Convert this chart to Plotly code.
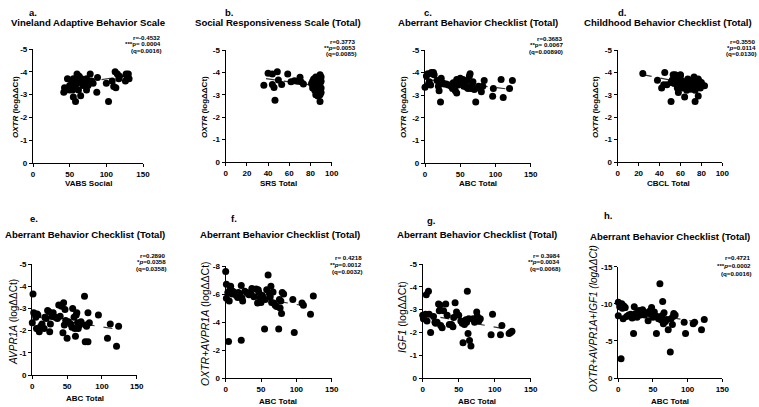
import plotly.graph_objects as go

# ---------- data ----------

vabs_social = [42, 43, 45, 47, 48, 50, 50, 52, 53, 54, 55, 55, 57, 58, 58, 60, 60, 62, 62, 63,
               65, 65, 66, 68, 70, 72, 73, 73, 75, 75, 77, 78, 80, 82, 87, 88, 100, 103, 108, 110,
               112, 113, 115, 117, 118, 126, 127, 128, 130, 131]
oxtr_vabs = [-3.1, -3.3, -3.2, -3.7, -3.3, -3.4, -3.2, -3.3, -3.5, -3.2, -2.9, -3.7, -3.4, -2.7, -3.3,
             -3.9, -3.5, -3.2, -3.7, -3.8, -2.95, -3.6, -3.7, -3.4, -3.6, -3.5, -3.7, -3.2, -3.4, -3.6,
             -3.5, -3.9, -3.6, -3.5, -3.1, -3.75, -3.5, -2.7, -3.6, -3.35, -4.0, -3.3, -3.9, -3.7, -3.8,
             -3.6, -3.9, -3.8, -3.9, -3.7]
fit_vabs_x = [45, 131]
fit_vabs_y = [-3.4, -3.85]

srs_total = [36, 40, 44, 44, 46.5, 45.6, 48.7, 49.7, 52.8, 58.5, 61.6, 64.8, 67.6, 70.1, 71, 73.3,
             82, 82, 83, 83, 84, 84, 85, 85, 85, 86, 86, 87, 87, 87, 88, 88, 88, 89, 89, 89, 89,
             90, 90, 90, 90, 86, 84, 83, 88, 81]
oxtr_srs = [-3.43, -3.96, -3.93, -3.46, -2.76, -3.33, -4.03, -3.66, -3.46, -3.93, -3.58, -3.63, -3.61,
            -3.78, -3.58, -3.48, -3.6, -3.3, -3.5, -3.7, -3.4, -3.2, -3.6, -3.0, -3.8, -3.5, -3.3,
            -3.1, -3.7, -2.95, -3.4, -3.6, -3.2, -3.5, -3.9, -3.0, -2.7, -3.3, -3.6, -3.1, -3.8,
            -3.75, -3.55, -3.35, -3.45, -3.5]
fit_srs_x = [38, 90]
fit_srs_y = [-3.72, -3.38]

abc_c = [0, 2, 4, 5, 6, 8, 9, 10, 12, 13, 17, 19, 20, 22, 23, 25, 27, 30, 33, 37, 39, 40, 43, 45,
         45, 47, 50, 52, 54, 55, 57, 59, 60, 61, 63, 64, 65, 67, 68, 70, 72, 76, 78, 80, 82, 84,
         96, 97, 108, 111, 120, 124]
oxtr_abc = [-3.35, -3.85, -3.95, -3.5, -3.6, -3.45, -4.0, -3.95, -4.0, -3.9, -3.65, -3.4, -3.2, -2.7,
            -3.75, -3.55, -3.5, -3.5, -3.45, -3.4, -3.3, -3.55, -3.2, -3.1, -3.7, -3.45, -3.75, -3.6,
            -3.7, -3.4, -3.5, -3.35, -3.65, -3.3, -3.85, -3.95, -3.3, -3.45, -3.6, -3.25, -2.7, -3.4,
            -3.3, -3.15, -3.4, -3.65, -2.95, -3.3, -3.7, -2.9, -3.3, -3.65]
fit_abc_c_x = [0, 124]
fit_abc_c_y = [-3.7, -3.25]

cbcl_total = [24, 38, 42, 44, 45, 47, 51, 51, 52, 53, 54, 55, 56, 57, 57, 58, 59, 60, 61, 62, 62, 63,
              64, 65, 66, 67, 68, 69, 70, 70, 71, 72, 73, 74, 74, 75, 76, 77, 77, 78, 79, 80, 83,
              60, 66]
oxtr_cbcl = [-3.95, -3.65, -3.3, -3.45, -4.0, -3.45, -2.7, -3.55, -3.65, -3.9, -3.5, -3.9, -3.6, -3.75,
             -3.3, -3.1, -3.55, -3.9, -3.45, -3.6, -3.3, -3.4, -2.9, -3.55, -3.2, -3.7, -3.35, -3.5,
             -3.25, -3.65, -3.4, -3.55, -3.8, -3.2, -2.7, -3.6, -3.45, -2.95, -3.7, -3.6, -3.3, -3.55,
             -3.4, -3.85, -3.45]
fit_cbcl_x = [24, 83]
fit_cbcl_y = [-3.9, -3.35]

abc_e = [0, 1, 2, 4, 5, 6, 7, 8, 9, 10, 12, 14, 17, 18, 20, 22, 24, 25, 26, 28, 30, 33, 36, 38, 40,
         42, 44, 45, 46, 47, 48, 50, 52, 55, 57, 58, 60, 61, 62, 63, 64, 65, 66, 68, 70, 75, 76, 77,
         78, 80, 80, 82, 95, 108, 112, 121, 124]
avpr1a = [-2.35, -3.65, -2.8, -2.75, -2.6, -2.1, -2.75, -2.7, -2.05, -1.95, -2.2, -2.3, -2.1, -2.6,
          -2.55, -2.9, -2.85, -1.95, -2.3, -2.65, -2.8, -2.6, -2.55, -3.15, -2.65, -3.1, -1.9, -3.25,
          -2.25, -2.95, -2.45, -1.65, -2.4, -2.3, -2.15, -3.0, -2.6, -2.1, -1.75, -2.7, -2.8, -2.35,
          -2.1, -2.25, -2.4, -3.55, -1.5, -2.25, -2.2, -1.5, -2.8, -2.35, -2.7, -1.65, -2.3, -1.3, -2.2]
fit_abc_e_x = [0, 124]
fit_abc_e_y = [-2.65, -2.05]

abc_f = [0, 1, 1, 3, 4, 5, 6, 7, 9, 10, 12, 15, 17, 18, 20, 22, 22, 23, 24, 27, 30, 33, 36, 37, 40,
         43, 45, 46, 47, 48, 50, 52, 55, 56, 58, 60, 62, 63, 64, 65, 67, 68, 70, 72, 75, 76, 77, 78,
         79, 80, 82, 95, 97, 108, 110, 120, 124]
oxtr_avpr1a = [-7.6, -6.7, -5.7, -6.1, -2.6, -5.5, -6.3, -6.55, -6.0, -6.2, -6.1, -5.9, -5.75, -6.1,
               -6.0, -2.7, -6.6, -5.7, -5.5, -6.2, -6.1, -5.95, -6.0, -6.4, -5.8, -6.35, -5.35, -6.3,
               -6.1, -5.7, -5.4, -5.9, -3.5, -5.6, -6.3, -7.35, -6.0, -5.8, -6.55, -5.4, -6.15, -5.35,
               -5.2, -5.1, -3.5, -5.6, -5.0, -5.5, -4.6, -6.1, -6.0, -5.6, -3.25, -5.35, -5.2, -4.55,
               -5.85]
fit_abc_f_x = [0, 124]
fit_abc_f_y = [-6.1, -5.05]

abc_g = [0, 1, 4, 5, 6, 8, 9, 11, 15, 17, 18, 20, 22, 23, 24, 25, 27, 29, 32, 34, 37, 40, 42, 43, 45,
         47, 48, 50, 53, 55, 56, 58, 60, 61, 62, 63, 64, 65, 67, 70, 72, 75, 76, 78, 80, 95, 97,
         108, 110, 120, 122, 124]
igf1 = [-2.75, -2.6, -2.8, -3.65, -2.5, -3.8, -2.8, -2.0, -2.7, -2.45, -2.4, -2.45, -3.25, -2.95,
        -3.2, -2.3, -2.2, -2.95, -3.25, -2.75, -2.35, -2.35, -2.25, -2.65, -3.3, -2.9, -2.8, -2.75,
        -2.5, -2.4, -1.55, -2.35, -2.55, -2.45, -3.8, -1.95, -2.6, -1.65, -1.4, -2.6, -2.45, -2.9,
        -2.7, -2.5, -2.6, -1.9, -2.8, -1.9, -2.3, -1.95, -2.0, -2.05]
fit_abc_g_x = [0, 124]
fit_abc_g_y = [-2.8, -2.1]

abc_h = [0, 0, 2, 4, 5, 6, 7, 8, 10, 12, 15, 18, 20, 22, 23, 25, 27, 30, 32, 35, 38, 40, 43, 45, 47,
         48, 50, 52, 55, 56, 58, 60, 62, 63, 64, 65, 66, 68, 70, 72, 75, 76, 78, 79, 80, 82, 95, 97,
         108, 110, 120, 124]
oxtr_avpr1a_igf1 = [-8.4, -10.2, -9.6, -2.6, -10.0, -9.4, -8.0, -9.7, -9.5, -8.3, -8.5, -8.6, -8.1,
                    -6.0, -9.6, -8.7, -8.2, -9.1, -8.5, -9.2, -8.5, -8.8, -7.7, -9.0, -8.6, -9.5, -8.2,
                    -8.9, -6.0, -8.3, -8.0, -12.7, -7.8, -8.4, -10.3, -7.3, -8.8, -7.6, -7.9, -6.5,
                    -3.5, -8.0, -7.2, -8.3, -8.7, -8.5, -7.5, -6.0, -7.3, -7.5, -6.5, -7.9]
fit_abc_h_x = [0, 124]
fit_abc_h_y = [-9.3, -7.4]

ticks_150 = [0, 50, 100, 150]
ticks_100 = [0, 20, 40, 60, 80, 100]
ticks_y5 = [0, -1, -2, -3, -4, -5]
ticks_y8 = [0, -2, -4, -6, -8]
ticks_y15 = [0, -5, -10, -15]

panel_letters = ["a.", "b.", "c.", "d.", "e.", "f.", "g.", "h."]
panel_titles = ["Vineland Adaptive Behavior Scale", "Social Responsiveness Scale (Total)",
                "Aberrant Behavior Checklist (Total)", "Childhood Behavior Checklist (Total)",
                "Aberrant Behavior Checklist (Total)", "Aberrant Behavior Checklist (Total)",
                "Aberrant Behavior Checklist (Total)", "Aberrant Behavior Checklist (Total)"]
x_titles = ["VABS Social", "SRS Total", "ABC Total", "CBCL Total",
            "ABC Total", "ABC Total", "ABC Total", "ABC Total"]
y_titles = ["<b><i>OXTR</i> (logΔΔCt)</b>", "<b><i>OXTR</i> (logΔΔCt)</b>", "<b><i>OXTR</i> (logΔΔCt)</b>",
            "<b><i>OXTR</i> (logΔΔCt)</b>", "<i>AVPR1A</i> (logΔΔCt)", "<i>OXTR+AVPR1A</i> (logΔΔCt)",
            "<i>IGF1</i> (logΔΔCt)", "<i>OXTR+AVPR1A+IGF1 (logΔΔCt)</i>"]
stats = [
    ["r=-0.4532", "***p= 0.0004", "(q=0.0016)"],
    ["r=0.3773", "**<i>p</i>=0.0053", "(q=0.0085)"],
    ["r=0.3683", "**p= 0.0067", "(q=0.00890)"],
    ["r=0.3550", "*<i>p</i>=0.0114", "(q=0.0130)"],
    ["r=0.2890", "*<i>p</i>=0.0358", "(q=0.0358)"],
    ["r= 0.4218", "**<i>p</i>=0.0012", "(q=0.0032)"],
    ["r= 0.3984", "**<i>p</i>=0.0034", "(q=0.0068)"],
    ["r=0.4721", "***<i>p</i>=0.0002", "(q=0.0016)"],
]

# ---------- layout helpers ----------

W, H = 759, 407
FONT = "Liberation Sans, Arial, sans-serif"

# pixel boxes of each plot area: x0, x1, y_top, y_bottom
boxes = [
    (33, 143, 49, 163), (225.7, 331.7, 50, 162), (425, 530.7, 50, 163), (617.7, 722.3, 50, 162),
    (32.3, 136.7, 264, 375), (225.7, 331.7, 266, 378), (422.7, 530.7, 264, 378), (618.3, 722.3, 266.7, 378),
]
# label positions in px (centers); stats: right edge x and line y's
letter_pos = [(33, 13), (229, 13), (428, 13), (622, 13), (34, 219), (234, 219), (431, 220), (608, 215)]
title_pos = [(88, 23), (278, 23), (478, 23), (668, 23), (85, 234), (280, 234), (477, 235), (670, 236)]
xtitle_pos = [(88, 184), (278, 183), (478, 183), (668, 183), (85, 398), (278, 401), (477, 401), (670, 401)]
ytitle_pos = [(15, 107), (204, 107), (403, 107), (595, 107), (13, 322), (205, 324), (402, 317), (593, 319)]
ytitle_size = [8, 8, 8, 8, 10, 10.5, 10.5, 10]
stats_pos = [(163, [37, 43.5, 50]), (358, [41, 47, 53]), (565, [38, 45, 52]), (758, [41, 47, 53]),
             (168, [255, 261.5, 268]), (364, [257, 264, 271]), (562, [255, 261.5, 268]), (753, [257, 265, 273])]


def px(x):
    return x / W


def py(y):
    return 1 - y / H


panels = [
    (vabs_social, oxtr_vabs, fit_vabs_x, fit_vabs_y, ticks_150, ticks_y5),
    (srs_total, oxtr_srs, fit_srs_x, fit_srs_y, ticks_100, ticks_y5),
    (abc_c, oxtr_abc, fit_abc_c_x, fit_abc_c_y, ticks_150, ticks_y5),
    (cbcl_total, oxtr_cbcl, fit_cbcl_x, fit_cbcl_y, ticks_100, ticks_y5),
    (abc_e, avpr1a, fit_abc_e_x, fit_abc_e_y, ticks_150, ticks_y5),
    (abc_f, oxtr_avpr1a, fit_abc_f_x, fit_abc_f_y, ticks_150, ticks_y8),
    (abc_g, igf1, fit_abc_g_x, fit_abc_g_y, ticks_150, ticks_y5),
    (abc_h, oxtr_avpr1a_igf1, fit_abc_h_x, fit_abc_h_y, ticks_150, ticks_y15),
]

fig = go.Figure()
layout = {}
annotations = []


def ann(text, x, y, size, **kw):
    opts = dict(xanchor="center", yanchor="middle")
    opts.update(kw)
    annotations.append(dict(text=text, x=px(x), y=py(y), xref="paper", yref="paper",
                            showarrow=False, font=dict(family=FONT, size=size, color="black"), **opts))


for i, (xs, ys, fx, fy, xt, yt) in enumerate(panels):
    n = "" if i == 0 else str(i + 1)
    x0, x1, yt_px, yb_px = boxes[i]
    axis_style = dict(showline=True, linecolor="black", linewidth=1.3, ticks="outside",
                      ticklen=3, tickwidth=1.3, tickcolor="black", showgrid=False,
                      zeroline=False, automargin=False,
                      tickfont=dict(family=FONT, size=8, color="black", weight="bold"))
    layout["xaxis" + n] = dict(domain=[px(x0), px(x1)], range=[xt[0], xt[-1]],
                               tickvals=xt, ticktext=[str(v) for v in xt],
                               anchor="y" + n, **axis_style)
    layout["yaxis" + n] = dict(domain=[py(yb_px), py(yt_px)], range=[yt[0], yt[-1]],
                               tickvals=yt, ticktext=[str(v) for v in yt],
                               anchor="x" + n, **axis_style)

    fig.add_trace(go.Scatter(x=fx, y=fy, mode="lines", xaxis="x" + n, yaxis="y" + n,
                             line=dict(color="#333", width=1.2, dash="dash"), showlegend=False))
    fig.add_trace(go.Scatter(x=xs, y=ys, mode="markers", xaxis="x" + n, yaxis="y" + n,
                             marker=dict(color="black", size=7), cliponaxis=False, showlegend=False))

    ann("<b>" + panel_letters[i] + "</b>", letter_pos[i][0], letter_pos[i][1], 9.5)
    ann("<b>" + panel_titles[i] + "</b>", title_pos[i][0], title_pos[i][1], 9.6)
    ann("<b>" + x_titles[i] + "</b>", xtitle_pos[i][0], xtitle_pos[i][1], 8)
    ann(y_titles[i], ytitle_pos[i][0], ytitle_pos[i][1], ytitle_size[i], textangle=-90)
    sx, sys_ = stats_pos[i]
    for line, yy in zip(stats[i], sys_):
        ann("<b>" + line + "</b>", sx, yy, 6.2, xanchor="right")

fig.update_layout(
    width=W, height=H,
    margin=dict(l=0, r=0, t=0, b=0),
    paper_bgcolor="white", plot_bgcolor="white",
    annotations=annotations,
    **layout,
)

# drop the default body margin so the figure sits at the page corner
fig.write_html("out.html", config={"displayModeBar": False},
               post_script="document.body.style.margin='0';")
